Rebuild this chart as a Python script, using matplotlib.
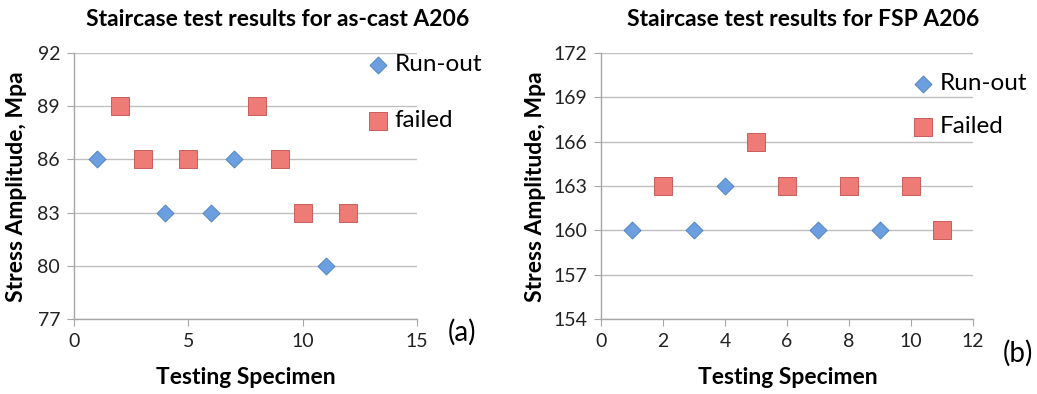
import matplotlib
matplotlib.use('Agg')
import matplotlib.pyplot as plt

## Data for the as-cast chart (a)
cast_runout_x = [1, 4, 6, 7, 11]
cast_runout_y = [86, 83, 83, 86, 80]
cast_failed_x = [2, 3, 5, 8, 9, 10, 12]
cast_failed_y = [89, 86, 86, 89, 86, 83, 83]
cast_yticks = [77, 80, 83, 86, 89, 92]
cast_xticks = [0, 5, 10, 15]

## Data for the FSP chart (b)
fsp_runout_x = [1, 3, 4, 7, 9]
fsp_runout_y = [160, 160, 163, 160, 160]
fsp_failed_x = [2, 5, 6, 8, 10, 11]
fsp_failed_y = [163, 166, 163, 163, 163, 160]
fsp_yticks = [154, 157, 160, 163, 166, 169, 172]
fsp_xticks = [0, 2, 4, 6, 8, 10, 12]

plt.rcParams['font.family'] = ['Lato', 'DejaVu Sans']

W, H = 1037, 394
fig = plt.figure(figsize=(W / 100, H / 100), dpi=100)

blue, blue_edge = '#6b9fdf', '#4a7ebb'
red, red_edge = '#ef7b77', '#c0504d'


def fx(px):
    return px / W


def fy(py):
    return 1 - py / H


def setup(ax, xticks, yticks):
    ax.set_xlim(xticks[0], xticks[-1])
    ax.set_ylim(yticks[0], yticks[-1])
    ax.set_xticks(xticks)
    ax.set_yticks(yticks)
    for s in ['top', 'right']:
        ax.spines[s].set_visible(False)
    for s in ['left', 'bottom']:
        ax.spines[s].set_color('#a6a6a6')
        ax.spines[s].set_linewidth(1.0)
    ax.grid(axis='y', color='#bfbfbf', linewidth=1.0)
    ax.set_axisbelow(True)
    ax.tick_params(direction='out', length=5, color='#a6a6a6',
                   labelsize=14, labelcolor='#222222', pad=5)


## Chart (a)
ax1 = fig.add_axes([fx(74), fy(319), fx(417 - 74), (319 - 53) / H])
setup(ax1, cast_xticks, cast_yticks)
ax1.scatter(cast_runout_x, cast_runout_y, marker='D', s=75, color=blue,
            edgecolor=blue_edge, linewidth=0.6, label='Run-out', zorder=3, clip_on=False)
ax1.scatter(cast_failed_x, cast_failed_y, marker='s', s=150, color=red,
            edgecolor=red_edge, linewidth=0.6, label='failed', zorder=3, clip_on=False)
ax1.legend(loc='upper left', bbox_to_anchor=(fx(368), fy(54)), bbox_transform=fig.transFigure,
           frameon=False, fontsize=17.5, handlelength=0.8, handletextpad=0.3,
           labelspacing=1.45, borderpad=0, borderaxespad=0, scatterpoints=1)

## Chart (b)
ax2 = fig.add_axes([fx(601), fy(319), fx(973 - 601), (319 - 53) / H])
setup(ax2, fsp_xticks, fsp_yticks)
ax2.scatter(fsp_runout_x, fsp_runout_y, marker='D', s=75, color=blue,
            edgecolor=blue_edge, linewidth=0.6, label='Run-out', zorder=3, clip_on=False)
ax2.scatter(fsp_failed_x, fsp_failed_y, marker='s', s=150, color=red,
            edgecolor=red_edge, linewidth=0.6, label='Failed', zorder=3, clip_on=False)
ax2.legend(loc='upper left', bbox_to_anchor=(fx(913), fy(73)), bbox_transform=fig.transFigure,
           frameon=False, fontsize=17.5, handlelength=0.8, handletextpad=0.3,
           labelspacing=0.9, borderpad=0, borderaxespad=0, scatterpoints=1)

## Titles and labels
fig.text(fx(278), fy(20), 'Staircase test results for as-cast A206', ha='center', va='center',
         fontsize=16.5, fontweight='bold')
fig.text(fx(803), fy(20), 'Staircase test results for FSP A206', ha='center', va='center',
         fontsize=16.5, fontweight='bold')
fig.text(fx(17), fy(187), 'Stress Amplitude, Mpa', rotation=90, ha='center', va='center',
         fontsize=16.5, fontweight='bold')
fig.text(fx(536), fy(187), 'Stress Amplitude, Mpa', rotation=90, ha='center', va='center',
         fontsize=16.5, fontweight='bold')
fig.text(fx(246), fy(378), 'Testing Specimen', ha='center', va='center',
         fontsize=16.5, fontweight='bold')
fig.text(fx(788), fy(378), 'Testing Specimen', ha='center', va='center',
         fontsize=16.5, fontweight='bold')
fig.text(fx(462), fy(332), '(a)', ha='center', va='center', fontsize=20)
fig.text(fx(1018), fy(353), '(b)', ha='center', va='center', fontsize=20)

fig.savefig('out.png', dpi=100)
